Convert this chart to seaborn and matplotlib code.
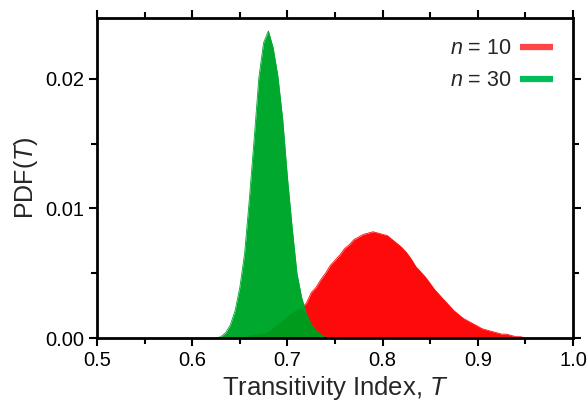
import numpy as np
import pandas as pd
import seaborn as sns
import matplotlib
matplotlib.use("Agg")
import matplotlib.pyplot as plt
from matplotlib.ticker import MultipleLocator

# values, every 0.005 in T
T_n10 = [0.655, 0.660, 0.665, 0.670, 0.675, 0.680, 0.685, 0.690, 0.695, 0.700,
         0.705, 0.710, 0.715, 0.720, 0.725, 0.730, 0.735, 0.740, 0.745, 0.750,
         0.755, 0.760, 0.765, 0.770, 0.775, 0.780, 0.785, 0.790, 0.795, 0.800,
         0.805, 0.810, 0.815, 0.820, 0.825, 0.830, 0.835, 0.840, 0.845, 0.850,
         0.855, 0.860, 0.865, 0.870, 0.875, 0.880, 0.885, 0.890, 0.895, 0.900,
         0.905, 0.910, 0.915, 0.920, 0.925, 0.930, 0.935, 0.940, 0.945, 0.950]
pdf_n10 = [0.0001, 0.0002, 0.0003, 0.0003, 0.0004, 0.0005, 0.0008, 0.0011, 0.0014, 0.0017,
           0.0020, 0.0022, 0.0023, 0.0027, 0.0035, 0.0039, 0.0045, 0.0050, 0.0056, 0.0060,
           0.0064, 0.0069, 0.0072, 0.0076, 0.0078, 0.0080, 0.0081, 0.0082, 0.0081, 0.0080,
           0.0079, 0.0076, 0.0073, 0.0070, 0.0066, 0.0061, 0.0055, 0.0051, 0.0047, 0.0042,
           0.0037, 0.0033, 0.0029, 0.0025, 0.0021, 0.0018, 0.0015, 0.0013, 0.0011, 0.0009,
           0.0007, 0.0006, 0.0005, 0.0004, 0.0003, 0.0003, 0.0002, 0.0001, 0.0001, 0.0000]

T_n30 = [0.625, 0.630, 0.635, 0.640, 0.645, 0.650, 0.655, 0.660, 0.665, 0.670,
         0.675, 0.680, 0.685, 0.690, 0.695, 0.700, 0.705, 0.710, 0.715, 0.720,
         0.725, 0.730, 0.735, 0.740, 0.745]
pdf_n30 = [0.0000, 0.0001, 0.0004, 0.0010, 0.0021, 0.0039, 0.0065, 0.0107, 0.0153, 0.0201,
           0.0228, 0.0237, 0.0224, 0.0202, 0.0169, 0.0124, 0.0085, 0.0050, 0.0031, 0.0019,
           0.0011, 0.0006, 0.0003, 0.0001, 0.0000]

sns.set_style("ticks")
plt.rcParams['font.family'] = ['Liberation Sans', 'DejaVu Sans']
plt.rcParams['mathtext.fontset'] = 'custom'
plt.rcParams['mathtext.rm'] = 'Liberation Sans'
plt.rcParams['mathtext.it'] = 'Liberation Sans:italic'

red = '#FF0A0A'
green = '#00A82E'
dark_green = '#009A1C'

df10 = pd.DataFrame({'T': T_n10, 'pdf': pdf_n10})
df30 = pd.DataFrame({'T': T_n30, 'pdf': pdf_n30})

fig = plt.figure(figsize=(5.88, 4.05), dpi=100)
ax = fig.add_axes([0.165, 0.1654, 0.8095, 0.7902])

# curves via seaborn (thin, drawn under the fills), areas via fill_between
sns.lineplot(data=df10, x='T', y='pdf', color=red, lw=0.6, ax=ax, zorder=0.5)
sns.lineplot(data=df30, x='T', y='pdf', color=green, lw=0.6, ax=ax, zorder=0.6)
ax.fill_between(df10['T'], df10['pdf'], color=red, lw=0, zorder=1)
ax.fill_between(df30['T'], df30['pdf'], color=green, lw=0, zorder=1.1)

# overlap of the two distributions
common = np.interp(df30['T'], df10['T'], df10['pdf'], left=0, right=0)
ax.fill_between(df30['T'], np.minimum(common, df30['pdf']), color=dark_green, lw=0, zorder=1.2)

# legend handles
ax.plot([], [], color='#FF4545', lw=4.5, solid_capstyle='butt', label='$n$ = 10')
ax.plot([], [], color='#00BF5A', lw=4.5, solid_capstyle='butt', label='$n$ = 30')
ax.legend(loc='upper right', frameon=False, markerfirst=False, fontsize=15.5,
          handlelength=1.5, labelspacing=0.5, handletextpad=0.4,
          borderaxespad=0.55)

ax.set_xlim(0.5, 1.0)
ax.set_ylim(0, 0.0247)
ax.xaxis.set_minor_locator(MultipleLocator(0.05))
ax.yaxis.set_minor_locator(MultipleLocator(0.005))
ax.set_xticks([0.5, 0.6, 0.7, 0.8, 0.9, 1.0])
ax.set_xticklabels(['0.5', '0.6', '0.7', '0.8', '0.9', '1.0'])
ax.set_yticks([0.0, 0.01, 0.02])
ax.set_yticklabels(['0.00', '0.01', '0.02'])

ax.tick_params(which='both', direction='out', top=True, right=True,
               width=1.5, colors='black', labelsize=14.5)
ax.tick_params(which='major', length=6)
ax.tick_params(which='minor', length=4)
ax.tick_params(axis='x', pad=3)
ax.tick_params(axis='y', pad=3)
for s in ax.spines.values():
    s.set_visible(True)
    s.set_linewidth(2)
    s.set_color('black')

ax.set_xlabel('Transitivity Index, $T$', fontsize=18.5, labelpad=3)
ax.set_ylabel('PDF($T$)', fontsize=18, labelpad=4)

fig.savefig('out.png', dpi=100)
